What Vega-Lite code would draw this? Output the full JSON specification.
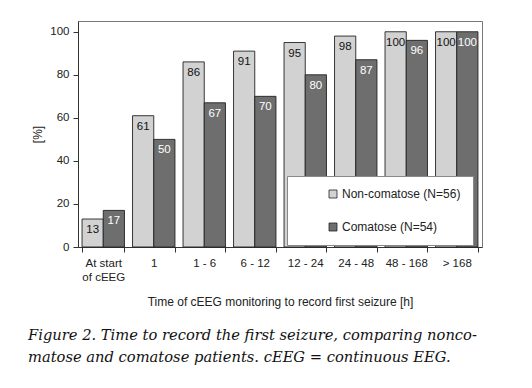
{
  "$schema": "https://vega.github.io/schema/vega-lite/v6.json",
  "width": 404,
  "height": 226,
  "autosize": {"type": "none"},
  "padding": {"left": 78, "top": 21, "right": 50, "bottom": 141},
  "background": "white",
  "config": {
    "font": "Liberation Sans",
    "view": {"stroke": "#777", "strokeWidth": 1},
    "axis": {"grid": false, "domainColor": "#333", "tickColor": "#333", "labelColor": "#222", "titleColor": "#222", "labelFont": "Liberation Sans", "titleFont": "Liberation Sans", "titleFontWeight": "normal"}
  },
  "title": {
    "text": ["Figure 2. Time to record the first seizure, comparing nonco-", "matose and comatose patients. cEEG = continuous EEG."],
    "orient": "bottom",
    "anchor": "start",
    "frame": "group",
    "dx": -50,
    "offset": 21,
    "font": "DejaVu Serif",
    "fontStyle": "italic",
    "fontWeight": "normal",
    "fontSize": 14.7,
    "lineHeight": 22,
    "color": "#111"
  },
  "data": {
    "values": [
      {"time": "At start of cEEG", "group": "Non-comatose (N=56)", "pct": 13},
      {"time": "At start of cEEG", "group": "Comatose (N=54)", "pct": 17},
      {"time": "1", "group": "Non-comatose (N=56)", "pct": 61},
      {"time": "1", "group": "Comatose (N=54)", "pct": 50},
      {"time": "1 - 6", "group": "Non-comatose (N=56)", "pct": 86},
      {"time": "1 - 6", "group": "Comatose (N=54)", "pct": 67},
      {"time": "6 - 12", "group": "Non-comatose (N=56)", "pct": 91},
      {"time": "6 - 12", "group": "Comatose (N=54)", "pct": 70},
      {"time": "12 - 24", "group": "Non-comatose (N=56)", "pct": 95},
      {"time": "12 - 24", "group": "Comatose (N=54)", "pct": 80},
      {"time": "24 - 48", "group": "Non-comatose (N=56)", "pct": 98},
      {"time": "24 - 48", "group": "Comatose (N=54)", "pct": 87},
      {"time": "48 - 168", "group": "Non-comatose (N=56)", "pct": 100},
      {"time": "48 - 168", "group": "Comatose (N=54)", "pct": 96},
      {"time": "> 168", "group": "Non-comatose (N=56)", "pct": 100},
      {"time": "> 168", "group": "Comatose (N=54)", "pct": 100}
    ]
  },
  "encoding": {
    "x": {
      "field": "time", "type": "nominal",
      "sort": ["At start of cEEG", "1", "1 - 6", "6 - 12", "12 - 24", "24 - 48", "48 - 168", "> 168"],
      "scale": {"paddingInner": 0.16, "paddingOuter": 0.08},
      "axis": {
        "title": "Time of cEEG monitoring to record first seizure [h]",
        "labelAngle": 0,
        "labelFontSize": 11.5,
        "labelExpr": "datum.value == 'At start of cEEG' ? ['At start', 'of cEEG'] : datum.label",
        "labelLineHeight": 14,
        "labelPadding": 5,
        "tickSize": 5,
        "tickBand": "extent",
        "titleFontSize": 12,
        "titleY": 54,
        "titleBaseline": "middle"
      }
    },
    "xOffset": {"field": "group", "type": "nominal", "sort": ["Non-comatose (N=56)", "Comatose (N=54)"], "scale": {"paddingInner": 0, "paddingOuter": 0}},
    "y": {
      "field": "pct", "type": "quantitative",
      "scale": {"domain": [0, 105], "nice": false},
      "axis": {
        "title": "[%]",
        "values": [0, 20, 40, 60, 80, 100],
        "labelFontSize": 11.5,
        "labelPadding": 4,
        "tickSize": 5,
        "titleFontSize": 12,
        "titleX": -41,
        "titleY": 113,
        "titleAngle": -90,
        "titleBaseline": "middle",
        "titleAlign": "center"
      }
    }
  },
  "layer": [
    {
      "mark": {"type": "bar", "stroke": "#222", "strokeWidth": 0.9},
      "encoding": {
        "color": {
          "field": "group", "type": "nominal",
          "sort": ["Non-comatose (N=56)", "Comatose (N=54)"],
          "scale": {"domain": ["Non-comatose (N=56)", "Comatose (N=54)"], "range": ["#d2d2d2", "#6e6e6e"]},
          "legend": {
            "title": null,
            "orient": "none",
            "legendX": 209,
            "legendY": 155,
            "direction": "vertical",
            "padding": 12,
            "rowPadding": 21,
            "symbolOffset": 28,
            "symbolType": "square",
            "symbolSize": 64,
            "symbolStrokeColor": "#222",
            "symbolStrokeWidth": 0.8,
            "labelFontSize": 12,
            "labelFont": "Liberation Sans",
            "labelColor": "#222",
            "labelOffset": 3,
            "labelExpr": "datum.label + '\u00a0\u00a0\u00a0\u00a0\u00a0\u00a0\u00a0\u00a0\u00a0'",
            "fillColor": "white",
            "strokeColor": "#888"
          }
        }
      }
    },
    {
      "mark": {"type": "text", "baseline": "middle", "dy": 11, "fontSize": 11.5, "font": "Liberation Sans"},
      "encoding": {
        "text": {"field": "pct", "type": "quantitative"},
        "color": {"condition": {"test": "datum.group == 'Comatose (N=54)'", "value": "white"}, "value": "#111"}
      }
    }
  ]
}
